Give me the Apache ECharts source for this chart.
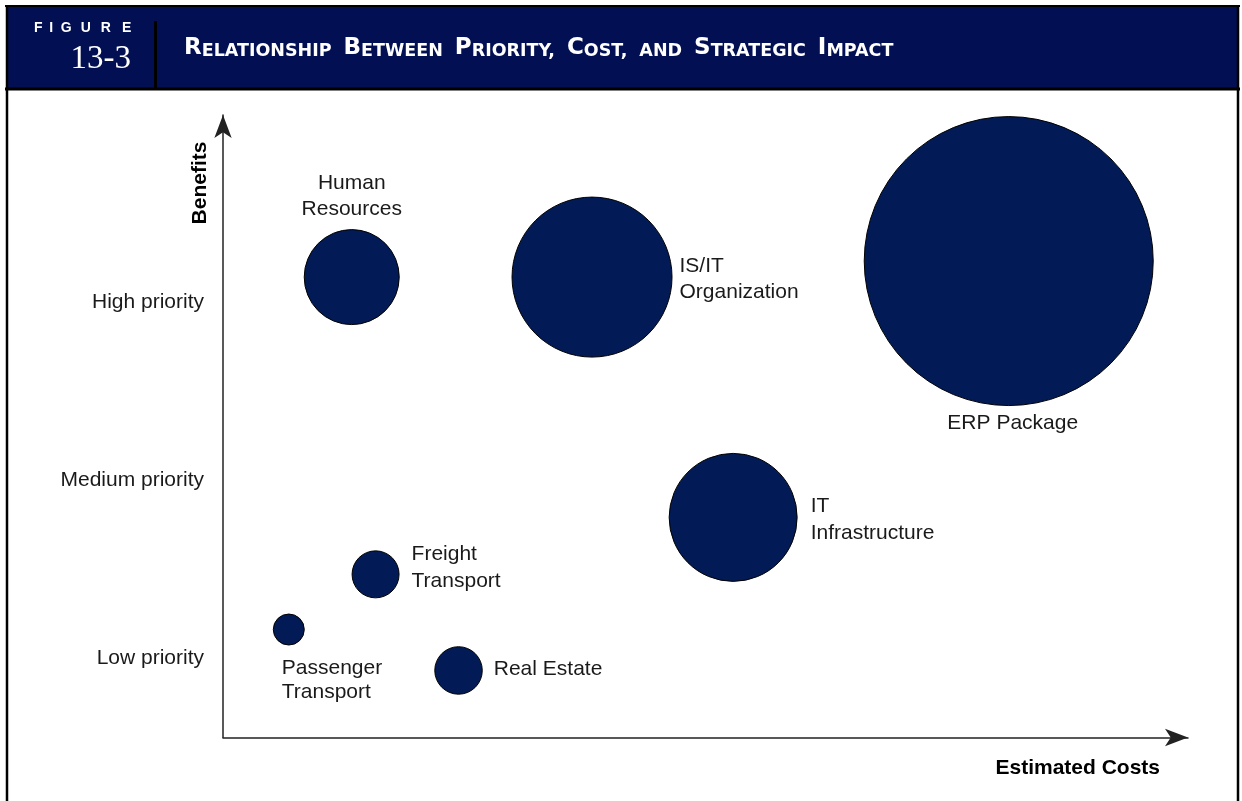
<!DOCTYPE html>
<html>
<head>
<meta charset="utf-8">
<script src="https://cdn.jsdelivr.net/npm/echarts@6/dist/echarts.min.js"></script>
<style>
  html, body { margin: 0; padding: 0; background: #ffffff; }
  #chart { width: 1242px; height: 801px; }
</style>
</head>
<body>
<div id="chart"></div>
<script>
// ---- Data ----
const projects = ['Passenger\nTransport', 'Human\nResources', 'Freight\nTransport', 'Real Estate', 'IS/IT\nOrganization', 'IT\nInfrastructure', 'ERP Package'];
const costs    = [6.9, 13.5, 16.0, 24.7, 38.7, 53.5, 82.4];       // estimated cost (relative)
const benefits = [1.16, 3.14, 1.47, 0.93, 3.14, 1.79, 3.23];      // 1 = low, 2 = medium, 3 = high
const impacts  = [3.1, 9.5, 4.7, 4.75, 16.0, 12.8, 28.9];         // strategic impact (bubble size)
const priorityValues = [1, 2, 3];
const priorityLabels = ['Low priority', 'Medium priority', 'High priority'];

// ---- label placement (style only) ----
const labelStyles = [
  { position: 'bottom', distance: 11, align: 'left', offset: [-7, 0], lineHeight: 24 },
  { position: 'top', distance: 7 },
  { position: 'right', distance: 12, offset: [0, -7], lineHeight: 27 },
  { position: 'right', distance: 11, offset: [0, -1.5] },
  { position: 'right', distance: 7, offset: [0, 2.5] },
  { position: 'right', distance: 13, offset: [0, 2], lineHeight: 27 },
  { position: 'bottom', distance: 4, offset: [4, 0] }
];

const seriesData = projects.map((n, i) => ({
  name: n,
  value: [costs[i], benefits[i], impacts[i]],
  label: labelStyles[i]
}));

const navy = '#020f52';
const bubble = '#021b56';
const textFont = "'Liberation Sans', Arial, Helvetica, sans-serif";

// header FIGURE letters
const figLetters = ['F', 'I', 'G', 'U', 'R', 'E'];
const figX = [38.3, 51.3, 66.2, 85.8, 105.8, 126.7];

function smallCaps(str) {
  return str.split(' ').map(w => {
    if (w === 'and') return '{s|AND}';
    return '{b|' + w[0].toUpperCase() + '}{s|' + w.slice(1).toUpperCase() + '}';
  }).join('{w| }');
}

const titleFont = "'DejaVu Sans', sans-serif";

const graphics = [
  { type: 'rect', shape: { x: 7, y: 7, width: 1231, height: 81 }, style: { fill: navy }, z: 0 },
  { type: 'line', shape: { x1: 5, y1: 6, x2: 1240, y2: 6 }, style: { stroke: '#000', lineWidth: 2 } },
  { type: 'line', shape: { x1: 5, y1: 89, x2: 1240, y2: 89 }, style: { stroke: '#000', lineWidth: 3 } },
  { type: 'line', shape: { x1: 7, y1: 5, x2: 7, y2: 801 }, style: { stroke: '#000', lineWidth: 2.5 } },
  { type: 'line', shape: { x1: 1238, y1: 5, x2: 1238, y2: 801 }, style: { stroke: '#000', lineWidth: 2.5 } },
  { type: 'line', shape: { x1: 155.5, y1: 21, x2: 155.5, y2: 88 }, style: { stroke: '#000', lineWidth: 3 } },
  { type: 'text', x: 131, y: 59, style: { text: '13-3', fill: '#fff', font: "33px 'Liberation Serif', 'Times New Roman', serif", align: 'right', verticalAlign: 'middle' } },
  { type: 'text', x: 184, y: 48, style: {
      text: smallCaps('Relationship Between Priority, Cost, and Strategic Impact'),
      fill: '#fff', verticalAlign: 'middle', align: 'left',
      rich: {
        b: { fontSize: 23, fontWeight: 'bold', fontFamily: titleFont, fill: '#fff', verticalAlign: 'bottom', lineHeight: 24 },
        s: { fontSize: 17.5, fontWeight: 'bold', fontFamily: titleFont, fill: '#fff', verticalAlign: 'bottom', lineHeight: 24 },
        w: { fontSize: 17.5, fontWeight: 'bold', fontFamily: titleFont, fill: '#fff', verticalAlign: 'bottom', lineHeight: 24, width: 12 }
      }
  } },
  { type: 'text', x: 200, y: 183, rotation: Math.PI / 2, style: { text: 'Benefits', fill: '#000', font: "bold 21px " + textFont, align: 'center', verticalAlign: 'middle' } },
  { type: 'text', x: 1160, y: 768, style: { text: 'Estimated Costs', fill: '#000', font: "bold 21px " + textFont, align: 'right', verticalAlign: 'middle' } }
];
figLetters.forEach((l, i) => {
  graphics.push({ type: 'text', x: figX[i], y: 28, style: { text: l, fill: '#fff', font: "bold 14px " + textFont, align: 'center', verticalAlign: 'middle' } });
});

const chart = echarts.init(document.getElementById('chart'), null, { renderer: 'canvas' });
chart.setOption({
  backgroundColor: '#ffffff',
  animation: false,
  graphic: graphics,
  grid: { left: 223, right: 54, top: 115, bottom: 63.5, containLabel: false },
  xAxis: {
    type: 'value', min: 0, max: 101.2,
    axisLine: { show: true, symbol: ['none', 'arrow'], symbolSize: [13, 23], lineStyle: { color: '#222', width: 1.5 } },
    axisTick: { show: false }, axisLabel: { show: false }, splitLine: { show: false }
  },
  yAxis: {
    type: 'value', min: 0.5534, max: 4.0506,
    axisLine: { show: true, symbol: ['none', 'arrow'], symbolSize: [13, 23], lineStyle: { color: '#222', width: 1.5 } },
    axisTick: { show: false }, splitLine: { show: false },
    axisLabel: {
      show: true, margin: 19, color: '#1a1a1a', fontSize: 21, fontFamily: textFont,
      customValues: priorityValues,
      formatter: v => { const i = priorityValues.indexOf(Math.round(v)); return i >= 0 ? priorityLabels[i] : ''; }
    }
  },
  series: [{
    type: 'scatter',
    data: seriesData,
    symbol: 'circle',
    symbolSize: v => v[2] * 10,
    itemStyle: { color: bubble, opacity: 1, borderColor: '#000', borderWidth: 1 },
    label: { show: true, formatter: p => p.name, color: '#1a1a1a', fontSize: 21, fontFamily: textFont, lineHeight: 26 },
    emphasis: { disabled: true }
  }]
});
</script>
</body>
</html>
